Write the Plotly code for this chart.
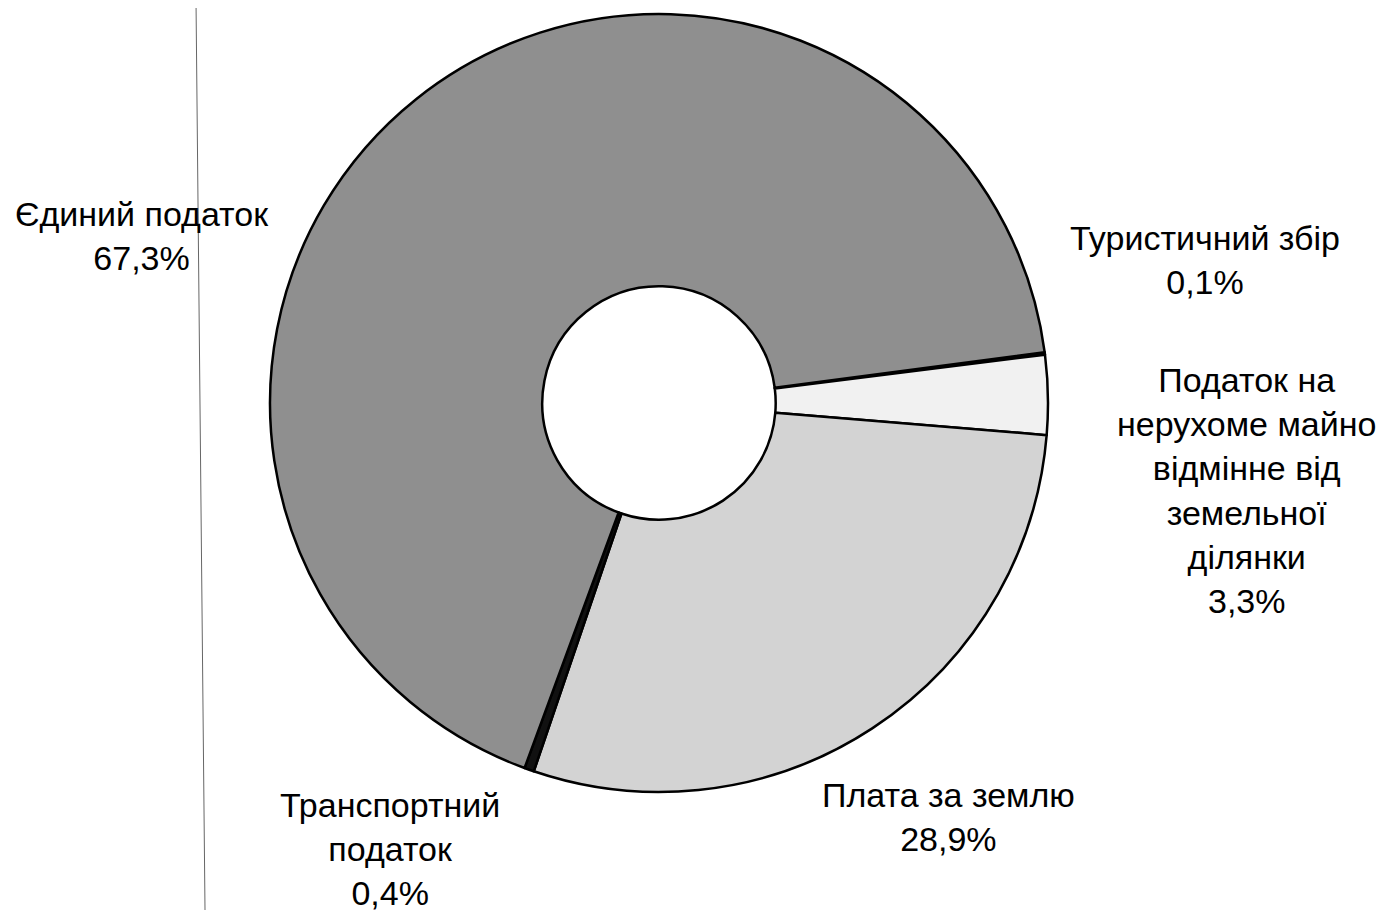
import plotly.graph_objects as go

W, H = 1387, 910
OFF = 8  # page body margin

categories = ["Туристичний збір", "Податок на нерухоме майно відмінне від земельної ділянки",
              "Плата за землю", "Транспортний податок", "Єдиний податок"]
values = [0.1, 3.3, 28.9, 0.4, 67.3]
label_texts = [
    "Туристичний збір<br>0,1%",
    "Податок на<br>нерухоме майно<br>відмінне від<br>земельної<br>ділянки<br>3,3%",
    "Плата за землю<br>28,9%",
    "Транспортний<br>податок<br>0,4%",
    "Єдиний податок<br>67,3%",
]
colors = ["#3a3a3a", "#f1f1f1", "#d3d3d3", "#111111", "#8f8f8f"]

# label anchor positions (page pixels, centre of text block)
label_px = [(1205, 260), (1246, 490), (948, 817), (390, 849), (142, 236)]

cx, cy, r = 659 - OFF, 403 - OFF, 389


def px2paper(px, py):
    return (px - OFF) / W, 1 - (py - OFF) / H


fig = go.Figure()
fig.add_trace(go.Pie(
    labels=categories,
    values=values,
    sort=False,
    direction="clockwise",
    rotation=82.5,
    hole=0.30,
    textinfo="none",
    hoverinfo="label+percent",
    marker=dict(colors=colors, line=dict(color="#000000", width=2.5)),
    domain=dict(x=[(cx - r) / W, (cx + r) / W], y=[1 - (cy + r) / H, 1 - (cy - r) / H]),
    showlegend=False,
))

for txt, (px, py) in zip(label_texts, label_px):
    x, y = px2paper(px, py)
    fig.add_annotation(
        x=x, y=y, xref="paper", yref="paper",
        text=txt, showarrow=False, xanchor="center", yanchor="middle",
        align="center",
        font=dict(family="Liberation Sans, Arial, sans-serif", size=34, color="#000000"),
    )

# scan edge line on the left
x0, y0 = px2paper(196, 0)
x1, y1 = px2paper(205, 910)
fig.add_shape(type="line", xref="paper", yref="paper",
              x0=x0, y0=y0, x1=x1, y1=y1,
              line=dict(color="#666666", width=1))

fig.update_layout(
    width=W, height=H,
    margin=dict(l=0, r=0, t=0, b=0),
    paper_bgcolor="#ffffff",
    plot_bgcolor="#ffffff",
)

fig.write_html("out.html")
